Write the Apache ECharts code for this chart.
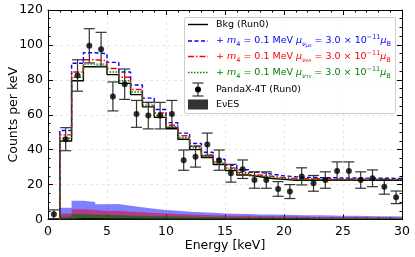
<!DOCTYPE html>
<html><head><meta charset="utf-8">
<script src="https://cdn.jsdelivr.net/npm/echarts@6/dist/echarts.min.js"></script>
<style>html,body{margin:0;padding:0;background:#fff}#c{width:415px;height:257px}</style>
</head><body><div id="c"></div>
<script>
// ---- data ----
const binLeft = [1,2,3,4,5,6,7,8,9,10,11,12,13,14,15,16,17,18,19,20,21,22,23,24,25,26,27,28,29];
const binRight = 30;
const bkg   = [45,79.5,87.5,87.5,83,78,71.5,64.5,58.5,52,46,40,35.5,31.5,28,25.5,24.5,23.5,23,22.5,22.5,22.5,22.5,22.5,22.5,22.5,22.5,22.5,22.5];
const sigBlue  = [51,89.5,95.5,95,90,84.5,77,69.5,63,55.5,49.5,43.5,38.5,34.5,31,28.5,27,26,25,24.5,24.2,24,24,23.8,23.8,23.7,23.6,23.6,23.5];
const sigRed   = [48.5,84.5,91.5,91,86.5,81.5,74.5,67,61,54,48,42,37,33,29.5,27,25.5,24.8,24,23.5,23.4,23.3,23.3,23.2,23.2,23.1,23.1,23,23];
const sigGreen = [46.5,81.5,89,89,84.5,79.5,73,65.5,59.5,53,47,41,36,32.2,28.7,26.2,25,24,23.5,23,22.9,22.8,22.8,22.8,22.7,22.7,22.7,22.7,22.7];
const evesBlue  = [6.8,10.8,10,8.8,8.9,7.9,7,6.2,5.5,5,4.5,4.1,3.8,3.5,3.3,3.1,2.9,2.8,2.7,2.6,2.5,2.4,2.3,2.2,2.1,2,1.9,1.8,1.7];
const evesRed   = [3.5,5.8,5.4,4.9,4.9,4.5,4.1,3.7,3.4,3.2,2.9,2.7,2.5,2.3,2.2,2.1,2,1.9,1.8,1.7,1.6,1.5,1.5,1.4,1.4,1.3,1.3,1.2,1.2];
const evesGreen = [1.6,3,2.8,2.6,2.5,2.3,2.1,1.9,1.8,1.7,1.6,1.5,1.4,1.3,1.2,1.2,1.1,1.1,1,1,1,0.9,0.9,0.9,0.9,0.8,0.8,0.8,0.8];
const evesBkg   = [0.5,0.8,0.8,0.7,0.7,0.7,0.6,0.6,0.6,0.5,0.5,0.5,0.5,0.5,0.4,0.4,0.4,0.4,0.4,0.4,0.4,0.3,0.3,0.3,0.3,0.3,0.3,0.3,0.3];
const dataX   = [0.5,1.5,2.5,3.5,4.5,5.5,6.5,7.5,8.5,9.5,10.5,11.5,12.5,13.5,14.5,15.5,16.5,17.5,18.5,19.5,20.5,21.5,22.5,23.5,24.5,25.5,26.5,27.5,28.5,29.5];
const dataY   = [3,46,82.5,99.5,97.5,70.5,77.5,60.5,59.5,59.5,60.5,34,36,43,34,26.5,28.8,22.6,22.6,17.5,16,24.7,20.7,22.6,27.8,27.8,22.6,23.6,18.8,12.7];
const dataErr = [2.5,6.6,9,9.8,9.7,8.3,8.7,7.7,7.6,7.6,7.7,5.8,6,6.5,5.8,5.1,5.3,4.7,4.7,4.2,4,4.9,4.5,4.7,5.2,5.2,4.7,4.8,4.3,3.6];
const xTicks = {min:0, max:30, step:5};
const yTicks = {min:0, max:120, step:20};

function stepData(vals, startZero){
  const d = [];
  if (startZero) d.push([binLeft[0], 0]);
  binLeft.forEach((x,i)=>d.push([x, vals[i]]));
  d.push([binRight, vals[vals.length-1]]);
  return d;
}
function areaSeries(vals, color){
  return {type:'line', step:'end', data:stepData(vals,false), symbol:'none', silent:true,
    lineStyle:{width:0}, areaStyle:{color:color, opacity:1}, z:1};
}
function histSeries(vals, color, type){
  return {type:'line', step:'end', data:stepData(vals,true), symbol:'none', silent:true,
    lineStyle:{color:color, width:1.4, type:type}, z:3};
}

const chart = echarts.init(document.getElementById('c'), null, {renderer:'canvas'});
const axisCommon = {
  type:'value', axisLine:{show:true, onZero:false, lineStyle:{color:'#000', width:1}},
  axisTick:{show:true, inside:true, length:5, lineStyle:{color:'#000'}},
  minorTick:{show:true, length:2.5, lineStyle:{color:'#000'}},
  axisLabel:{color:'#000', fontSize:12.5, fontFamily:'DejaVu Sans'},
  splitLine:{show:false}
};
const fontF = 'DejaVu Sans';

function richStyles(color){
  const b = {fill:color, color:color, fontFamily:fontF, fontSize:9.5, lineHeight:14};
  return {
    n: Object.assign({}, b),
    i: Object.assign({}, b, {fontStyle:'italic'}),
    s: Object.assign({}, b, {fontSize:6.5, verticalAlign:'bottom', lineHeight:11}),
    si: Object.assign({}, b, {fontSize:6.5, fontStyle:'italic', verticalAlign:'bottom', lineHeight:11}),
    ss: Object.assign({}, b, {fontSize:5, fontStyle:'italic', verticalAlign:'bottom', lineHeight:8}),
    sup: Object.assign({}, b, {fontSize:6.5, verticalAlign:'top', lineHeight:11})
  };
}
function mathLine(sub){
  return '{n|+ }{i|m}{s|4}{n| = 0.1 MeV }{i|μ}{si|ν}{ss|' + sub + '}{n| = 3.0 × 10}{sup|−11}{i|μ}{s|B}';
}
const LX1 = 188, LX2 = 208, TX = 216;
const rows = [24.5, 41, 56.5, 72.5, 89.5, 104.5];
const graphics = [
  {type:'rect', shape:{x:184.5, y:17.5, width:211, height:96, r:2}, style:{fill:'rgba(255,255,255,0.85)', stroke:'#cccccc', lineWidth:1}, z:10},
  {type:'line', shape:{x1:LX1,y1:rows[0],x2:LX2,y2:rows[0]}, style:{stroke:'#000', lineWidth:1.4}, z:11},
  {type:'line', shape:{x1:LX1,y1:rows[1],x2:LX2,y2:rows[1]}, style:{stroke:'#0000ff', lineWidth:1.4, lineDash:[4,2.5]}, z:11},
  {type:'line', shape:{x1:LX1,y1:rows[2],x2:LX2,y2:rows[2]}, style:{stroke:'#ff0000', lineWidth:1.4, lineDash:[6,2,1.5,2]}, z:11},
  {type:'line', shape:{x1:LX1,y1:rows[3],x2:LX2,y2:rows[3]}, style:{stroke:'#008000', lineWidth:1.4, lineDash:[1.5,1.5]}, z:11},
  {type:'line', shape:{x1:198,y1:rows[4]-6.5,x2:198,y2:rows[4]+6.5}, style:{stroke:'#333', lineWidth:1.2}, z:11},
  {type:'line', shape:{x1:192.5,y1:rows[4]-6.5,x2:203.5,y2:rows[4]-6.5}, style:{stroke:'#333', lineWidth:1.2}, z:11},
  {type:'line', shape:{x1:192.5,y1:rows[4]+6.5,x2:203.5,y2:rows[4]+6.5}, style:{stroke:'#333', lineWidth:1.2}, z:11},
  {type:'circle', shape:{cx:198, cy:rows[4], r:3}, style:{fill:'#000'}, z:11},
  {type:'rect', shape:{x:188, y:rows[5]-5, width:20, height:10}, style:{fill:'#333'}, z:11},
  {type:'text', x:TX, y:rows[0], style:{text:'Bkg (Run0)', fill:'#000', font:'9.5px "DejaVu Sans"', verticalAlign:'middle'}, z:11},
  {type:'text', x:TX, y:rows[1], style:{text:mathLine('μs'), rich:richStyles('#0000ff'), verticalAlign:'middle', fill:'#0000ff'}, z:11},
  {type:'text', x:TX, y:rows[2], style:{text:mathLine('es'), rich:richStyles('#ff0000'), verticalAlign:'middle', fill:'#ff0000'}, z:11},
  {type:'text', x:TX, y:rows[3], style:{text:mathLine('τs'), rich:richStyles('#008000'), verticalAlign:'middle', fill:'#008000'}, z:11},
  {type:'text', x:TX, y:rows[4], style:{text:'PandaX-4T (Run0)', fill:'#000', font:'9.5px "DejaVu Sans"', verticalAlign:'middle'}, z:11},
  {type:'text', x:TX, y:rows[5], style:{text:'EνES', fill:'#000', font:'9.5px "DejaVu Sans"', verticalAlign:'middle'}, z:11}
];

const option = {
  animation:false,
  backgroundColor:'#fff',
  textStyle:{fontFamily:fontF},
  grid:{left:48, right:13, top:10, bottom:37.5, containLabel:false, outerBoundsMode:'none'},
  xAxis:[
    Object.assign({}, axisCommon, {min:xTicks.min, max:xTicks.max, interval:xTicks.step, position:'bottom',
      minorTick:{show:true, splitNumber:5, length:2.5, lineStyle:{color:'#000'}},
      axisLabel:{color:'#000', fontSize:12.5, fontFamily:fontF, margin:6},
      splitLine:{show:true, lineStyle:{color:'#e3e3e3', type:[3,3], width:0.8}},
      name:'Energy [keV]', nameLocation:'middle', nameGap:20, nameMoveOverlap:false, nameTextStyle:{color:'#000', fontSize:12.5, fontFamily:fontF}}),
    Object.assign({}, axisCommon, {min:xTicks.min, max:xTicks.max, interval:xTicks.step, position:'top',
      minorTick:{show:true, splitNumber:5, length:2.5, lineStyle:{color:'#000'}},
      axisLabel:{show:false}})
  ],
  yAxis:[
    Object.assign({}, axisCommon, {min:yTicks.min, max:yTicks.max, interval:yTicks.step, position:'left',
      minorTick:{show:true, splitNumber:4, length:2.5, lineStyle:{color:'#000'}},
      axisLabel:{color:'#000', fontSize:12.5, fontFamily:fontF, margin:5},
      splitLine:{show:true, lineStyle:{color:'#e3e3e3', type:[3,3], width:0.8}},
      name:'Counts per keV', nameLocation:'middle', nameGap:28, nameMoveOverlap:false, nameTextStyle:{color:'#000', fontSize:12.5, fontFamily:fontF}}),
    Object.assign({}, axisCommon, {min:yTicks.min, max:yTicks.max, interval:yTicks.step, position:'right',
      minorTick:{show:true, splitNumber:4, length:2.5, lineStyle:{color:'#000'}},
      axisLabel:{show:false}})
  ],
  series:[
    areaSeries(evesBlue, 'rgba(0,0,255,0.5)'),
    areaSeries(evesRed, 'rgba(230,0,40,0.55)'),
    areaSeries(evesGreen, 'rgba(0,110,0,0.7)'),
    areaSeries(evesBkg, 'rgba(0,0,0,0.8)'),
    histSeries(bkg, '#000000', 'solid'),
    histSeries(sigBlue, '#0000ff', [4,2.5]),
    histSeries(sigRed, '#ff0000', [6,2,1.5,2]),
    histSeries(sigGreen, '#008000', [1.5,1.5]),
    {type:'custom', silent:true, z:4,
      data: dataX.map((x,i)=>[x, dataY[i], dataErr[i]]),
      renderItem:function(params, api){
        const x=api.value(0), y=api.value(1), e=api.value(2);
        const t=api.coord([x, y+e]), b=api.coord([x, y-e]);
        const hw=5.5, st={stroke:'#333', lineWidth:1.2};
        return {type:'group', children:[
          {type:'line', shape:{x1:t[0],y1:t[1],x2:b[0],y2:b[1]}, style:st},
          {type:'line', shape:{x1:t[0]-hw,y1:t[1],x2:t[0]+hw,y2:t[1]}, style:st},
          {type:'line', shape:{x1:b[0]-hw,y1:b[1],x2:b[0]+hw,y2:b[1]}, style:st}
        ]};
      }},
    {type:'scatter', silent:true, z:5, symbol:'circle', symbolSize:6, itemStyle:{color:'#000'},
      data: dataX.map((x,i)=>[x, dataY[i]])}
  ],
  graphic: graphics
};
chart.setOption(option);
</script>
</body></html>
